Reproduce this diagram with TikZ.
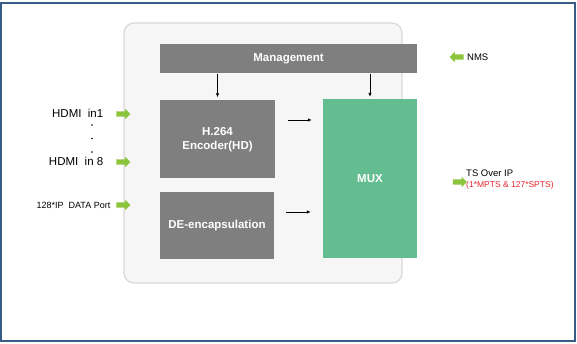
\documentclass[tikz,border=0pt]{standalone}
\usepackage{fontspec}
\setmainfont{Liberation Sans}
\definecolor{frame}{HTML}{365C88}
\definecolor{panel}{HTML}{F6F6F6}
\definecolor{panelline}{HTML}{D9D9D9}
\definecolor{block}{HTML}{7F7F7F}
\definecolor{muxgreen}{HTML}{64BC91}
\definecolor{portgreen}{HTML}{8CC43C}
\definecolor{tsred}{HTML}{E8262A}
\usetikzlibrary{arrows.meta,shapes.arrows}

\begin{document}
\begin{tikzpicture}[x=1pt,y=-1pt,>=Stealth,
  every node/.style={font=\fontsize{11.5}{13}\selectfont},
  blockbox/.style={fill=block,text=white,font=\fontsize{11.5}{14}\selectfont\bfseries,align=center,inner sep=0pt},
  portarrow/.style={single arrow,fill=portgreen,minimum height=14pt,inner sep=2.5pt,single arrow head extend=2.5pt},
  flow/.style={->,line width=0.8pt,>={Latex[length=4pt,width=3.5pt]}}]
\useasboundingbox (0,0) rectangle (577,344);
\draw[frame,line width=1.2pt] (1,3) rectangle (575,341);
\draw[panelline,fill=panel,line width=1.2pt,rounded corners=10pt] (124,23) rectangle (402,283);
\node[blockbox,minimum width=257pt,minimum height=29pt] (mgmt) at (288.5,58.5) {Management};
\node[blockbox,minimum width=115pt,minimum height=78pt] (enc) at (217.5,139.5) {H.264\\Encoder(HD)};
\node[blockbox,minimum width=114pt,minimum height=67pt] (decap) at (217,225.5) {DE-encapsulation};
\node[blockbox,fill=muxgreen,minimum width=94pt,minimum height=159pt] (mux) at (370,178.5) {MUX};
\draw[flow,shorten <=1pt,shorten >=3pt] (mgmt.south -| enc.north) -- (enc.north);
\draw[flow,shorten <=1pt,shorten >=2pt] (mgmt.south -| mux.north) -- (mux.north);
\draw[flow,shorten <=13pt,shorten >=11pt] ([yshift=19.5pt]enc.east) -- ([yshift=19.5pt]enc.east -| mux.west);
\draw[flow,shorten <=12pt,shorten >=12pt] ([yshift=13.5pt]decap.east) -- ([yshift=13.5pt]decap.east -| mux.west);
% inputs
\node[anchor=east,inner sep=0pt] (hdmi1) at (103.5,113) {HDMI\ \ in1};
\foreach \y/\n in {125/1,138.5/2,152/3}
  \node[circle,fill=black,inner sep=0pt,minimum size=1.6pt] (dot\n) at (92,\y) {};
\node[anchor=east,inner sep=0pt] (hdmi8) at (103.5,161.5) {HDMI\ \ in 8};
\node[anchor=east,inner sep=0pt,font=\fontsize{9}{11}\selectfont] (ipport) at (110.5,205) {128*IP\ \ DATA Port};
\node[portarrow] (arin1) at (122,114) {};
\node[portarrow] (arin8) at (122,162) {};
\node[portarrow] (arip) at (122,205) {};
% outputs
\node[portarrow,shape border rotate=180] (arnms) at (458,57) {};
\node[anchor=west,inner sep=0pt,font=\fontsize{9.5}{11}\selectfont] (nms) at (467,57) {NMS};
\node[portarrow] (arts) at (458.5,182) {};
\node[anchor=west,inner sep=0pt,font=\fontsize{9.5}{11}\selectfont] (ts) at (466,173) {TS Over IP};
\node[anchor=west,inner sep=0pt,text=tsred,font=\fontsize{8.5}{10}\selectfont] (tsmode) at (466,185) {(1*MPTS \& 127*SPTS)};
\end{tikzpicture}
\end{document}
